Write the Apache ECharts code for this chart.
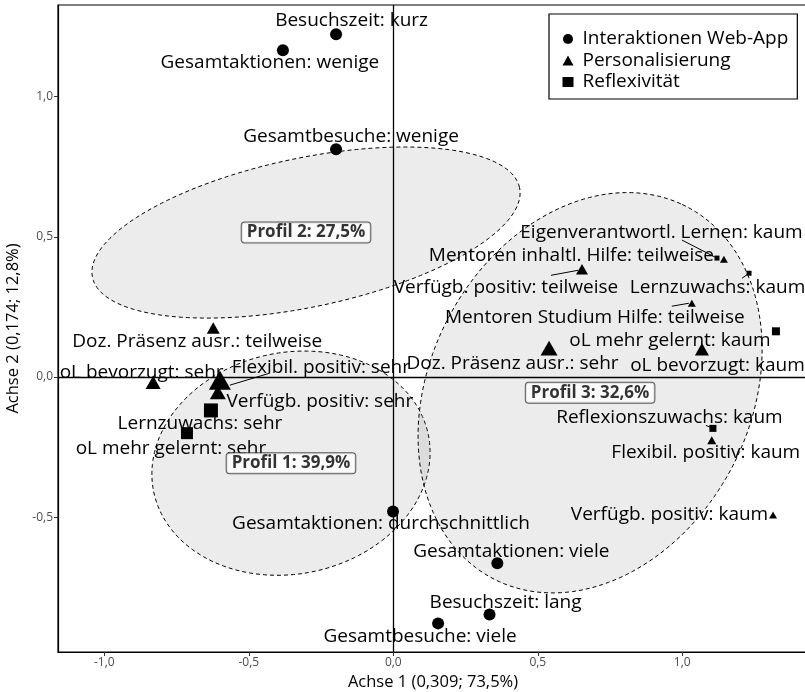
<!DOCTYPE html>
<html><head><meta charset="utf-8">
<script src="https://cdn.jsdelivr.net/npm/echarts@6/dist/echarts.min.js"></script>
<style>html,body{margin:0;padding:0;background:#fff}#c{width:805px;height:692px}</style>
</head><body><div id="c"></div>
<script>
// ---------- data ----------
const groups = ['Interaktionen Web-App', 'Personalisierung', 'Reflexivität'];

const webLabels = ['Besuchszeit: kurz','Gesamtaktionen: wenige','Gesamtbesuche: wenige','Gesamtaktionen: durchschnittlich','Gesamtaktionen: viele','Besuchszeit: lang','Gesamtbesuche: viele'];
const webX = [-0.198,-0.382,-0.198,-0.001,0.360,0.333,0.155];
const webY = [1.222,1.165,0.812,-0.479,-0.664,-0.846,-0.878];
const webContrib = [9,9,9,9,9,9,9];

const persLabels = ['Doz. Präsenz ausr.: teilweise','oL bevorzugt: sehr','Flexibil. positiv: sehr','Verfügb. positiv: sehr','Verfügb. positiv: teilweise','Mentoren inhaltl. Hilfe: teilweise','Mentoren Studium Hilfe: teilweise','Doz. Präsenz ausr.: sehr','oL bevorzugt: kaum','Flexibil. positiv: kaum','Verfügb. positiv: kaum'];
const persX = [-0.623,-0.831,-0.600,-0.607,0.653,1.144,1.033,0.539,1.068,1.102,1.314];
const persY = [0.175,-0.019,-0.011,-0.054,0.384,0.420,0.263,0.103,0.099,-0.225,-0.492];
const persContrib = [10,12,19,13,9,5,5,14,11,6,5];

const reflLabels = ['Lernzuwachs: sehr','oL mehr gelernt: sehr','Eigenverantwortl. Lernen: kaum','Lernzuwachs: kaum','oL mehr gelernt: kaum','Reflexionszuwachs: kaum'];
const reflX = [-0.631,-0.714,1.120,1.231,1.324,1.106];
const reflY = [-0.119,-0.200,0.424,0.370,0.163,-0.183];
const reflContrib = [11,9,2,2,5,4];

const profileNames = ['Profil 1', 'Profil 2', 'Profil 3'];
const profileShare = [39.9, 27.5, 32.6];
const profileCx = [-0.354, -0.302, 0.681];
const profileCy = [-0.307, 0.515, -0.056];
const profileA = [0.486, 0.756, 0.743];
const profileB = [0.394, 0.265, 0.558];
const profileAngle = [13.6, 12.3, 65];

const xTicks = [-1, -0.5, 0, 0.5, 1];
const yTicks = [-0.5, 0, 0.5, 1];

// ---------- styling (label placement in pixels) ----------
const webOff = [[15.5,-14],[-13,12],[15,-13],[-12,12],[14,-12],[16,-12],[-18,13]];
const persOff = [[-16,14],[-11.5,-10],[101,-13],[102,9],[-76,18],[-152.5,-4],[-97,14],[-36.5,15],[15.5,16],[-6,12],[-103.5,0]];
const reflOff = [[-11,13],[-16,15],[-55.5,-25],[-31.5,14],[-106,9],[-43.5,-11]];
// segments: [group, index, fromDx, fromDy, toDx, toDy]
const segStyle = [
  [1,2,10,5,50,-7],
  [1,4,-4,1,-31,6],
  [2,2,-2,-1,-35,-18],
  [1,6,-3,0,-20,3],
  [2,3,0,0,-7,5],
  [2,5,0,0,-7,-3]
];

const FONT = 'Open Sans';
const sizeOf = c => 3 + c;
const fmt = v => v.toFixed(1).replace('.', ',');

function makeSeries(name, symbol, labels, xs, ys, contrib, offs, tri) {
  return {
    type: 'scatter', name: name, symbol: symbol, z: 5,
    data: labels.map((n, i) => ({
      name: n, value: [xs[i], ys[i]],
      symbolSize: tri ? [sizeOf(contrib[i]), sizeOf(contrib[i]) * 0.88] : sizeOf(contrib[i]),
      label: { offset: offs[i] }
    })),
    itemStyle: { color: '#000', opacity: 1 },
    label: { show: true, position: 'inside', formatter: '{b}', color: '#000',
             fontFamily: FONT, fontSize: 19 },
    emphasis: { disabled: true },
    silent: true
  };
}

const allX = [webX, persX, reflX], allY = [webY, persY, reflY];

const option = {
  animation: false,
  grid: { left: 58, top: 5, right: -3, bottom: 40, outerBoundsMode: 'none', containLabel: false,
          show: true, borderColor: '#000', borderWidth: 1.2, backgroundColor: 'transparent' },
  xAxis: {
    type: 'value', min: -1.1602, max: 1.435,
    splitLine: { show: false },
    axisLine: { onZero: false, lineStyle: { color: '#000', width: 1.2 } },
    axisTick: { customValues: xTicks, length: 4, lineStyle: { color: '#333' } },
    axisLabel: { customValues: xTicks, formatter: fmt, color: '#4d4d4d', fontFamily: FONT, fontSize: 12, margin: 5 },
    name: 'Achse 1 (0,309; 73,5%)', nameLocation: 'middle', nameGap: 18,
    nameTextStyle: { color: '#000', fontFamily: FONT, fontSize: 16.5 }
  },
  yAxis: {
    type: 'value', min: -0.98, max: 1.326,
    splitLine: { show: false },
    axisLine: { onZero: false, lineStyle: { color: '#000', width: 1.2 } },
    axisTick: { customValues: yTicks, length: 4, lineStyle: { color: '#333' } },
    axisLabel: { customValues: yTicks, formatter: fmt, color: '#4d4d4d', fontFamily: FONT, fontSize: 12, margin: 5 },
    name: 'Achse 2 (0,174; 12,8%)', nameLocation: 'middle', nameGap: 35,
    nameTextStyle: { color: '#000', fontFamily: FONT, fontSize: 16.5 }
  },
  legend: {
    data: [{ name: groups[0], icon: 'circle' }, { name: groups[1], icon: 'triangle' }, { name: groups[2], icon: 'rect' }],
    orient: 'vertical', left: 549, top: 14,
    padding: [15, 9, 7, 13.5], itemGap: 1.5, itemWidth: 11, itemHeight: 10,
    borderColor: '#000', borderWidth: 1.2, backgroundColor: '#fff',
    textStyle: { color: '#000', fontFamily: FONT, fontSize: 19, lineHeight: 20, padding: [0, 0, 0, 4] },
    itemStyle: { color: '#000' }
  },
  series: [
    {
      type: 'custom', name: 'ellipses', z: 1, silent: true,
      data: profileCx.map((x, i) => [x, profileCy[i], i]),
      renderItem: function (params, api) {
        const i = params.dataIndex;
        const th = profileAngle[i] * Math.PI / 180;
        const pts = [];
        for (let k = 0; k < 180; k++) {
          const t = k / 180 * 2 * Math.PI;
          const ex = profileA[i] * Math.cos(t), ey = profileB[i] * Math.sin(t);
          pts.push(api.coord([profileCx[i] + ex * Math.cos(th) - ey * Math.sin(th),
                              profileCy[i] + ex * Math.sin(th) + ey * Math.cos(th)]));
        }
        return { type: 'polygon', shape: { points: pts },
                 style: { fill: 'rgba(120,120,120,0.14)', stroke: '#000', lineWidth: 1, lineDash: [4, 3] } };
      },
      markLine: {
        silent: true, symbol: 'none', animation: false,
        label: { show: false },
        lineStyle: { color: '#000', width: 1.3, type: 'solid' },
        data: [{ xAxis: 0 }, { yAxis: 0 }]
      }
    },
    {
      type: 'custom', name: 'segments', z: 4, silent: true,
      data: segStyle.map((s, k) => [allX[s[0]][s[1]], allY[s[0]][s[1]], k]),
      renderItem: function (params, api) {
        const s = segStyle[params.dataIndex];
        const p = api.coord([api.value(0), api.value(1)]);
        return { type: 'line', shape: { x1: p[0] + s[2], y1: p[1] + s[3], x2: p[0] + s[4], y2: p[1] + s[5] },
                 style: { stroke: '#000', lineWidth: 1 } };
      }
    },
    makeSeries(groups[0], 'circle', webLabels, webX, webY, webContrib, webOff, false),
    makeSeries(groups[1], 'triangle', persLabels, persX, persY, persContrib, persOff, true),
    makeSeries(groups[2], 'rect', reflLabels, reflX, reflY, reflContrib, reflOff, false),
    {
      type: 'scatter', name: 'profiles', z: 6, silent: true, symbolSize: 0,
      data: profileCx.map((x, i) => ({ name: profileNames[i] + ': ' + fmt(profileShare[i]) + '%', value: [x, profileCy[i]] })),
      label: { show: true, position: 'inside', formatter: '{b}', color: '#000', fontFamily: FONT,
               fontSize: 17, fontWeight: 'bold', lineHeight: 17, backgroundColor: '#fff', borderColor: '#333', borderWidth: 1,
               borderRadius: 3, padding: [2, 5, 1, 5] }
    }
  ]
};

const chart = echarts.init(document.getElementById('c'));
chart.setOption(option);
</script>
</body></html>
